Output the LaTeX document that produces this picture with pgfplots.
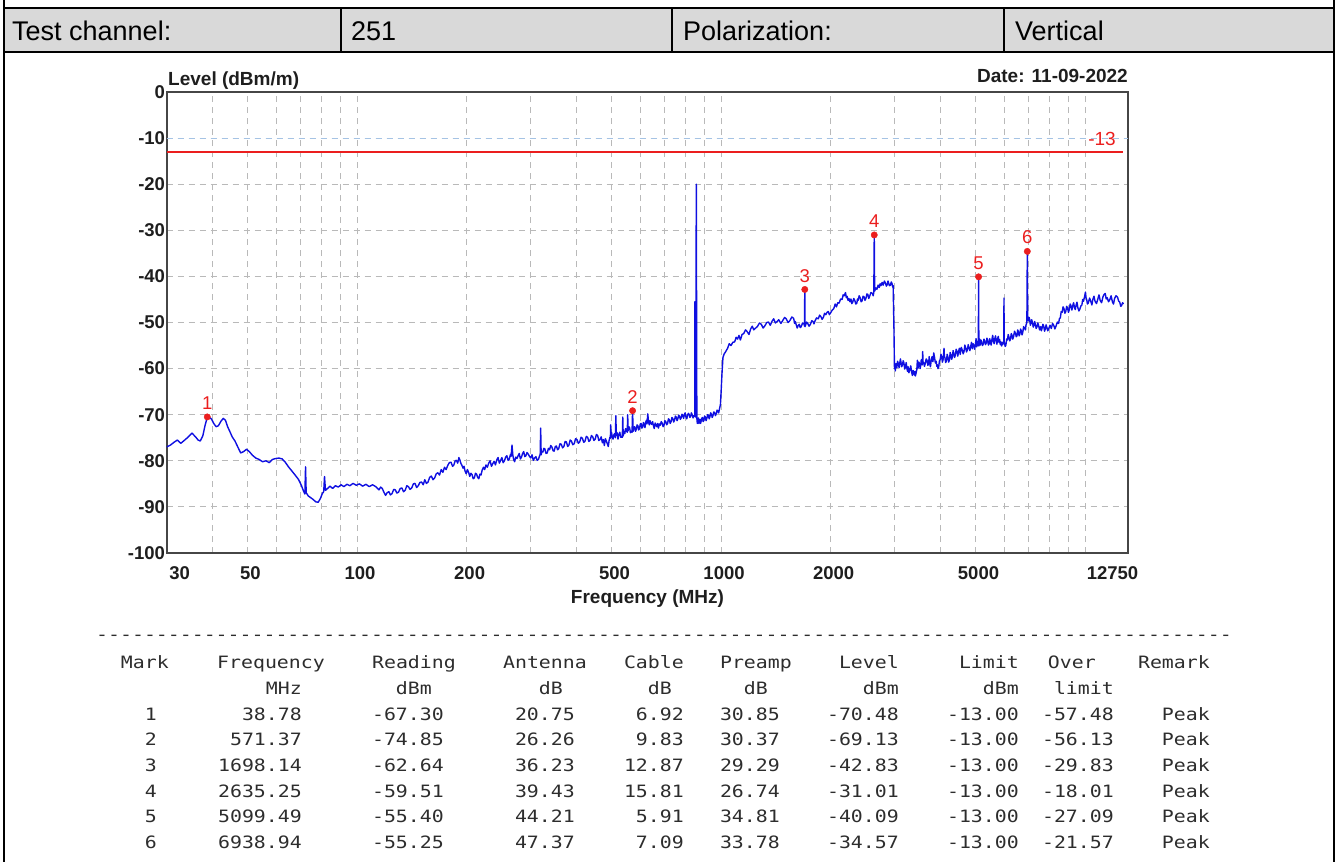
\documentclass[border=0pt]{standalone}
\usepackage{fontspec}
\setmainfont{Liberation Sans}
\newfontfamily\monofont{DejaVu Sans Mono}
\usepackage{graphicx}
\usepackage{pgfplots}
\usepackage{pgfplotstable}
\pgfplotsset{compat=1.18}
\definecolor{hdrgrey}{RGB}{217,217,217}
\definecolor{axisgrey}{RGB}{70,70,70}
\definecolor{gridgrey}{RGB}{185,185,185}
\definecolor{gridblue}{RGB}{165,195,228}
\definecolor{tracecol}{RGB}{15,15,225}
\definecolor{limred}{RGB}{235,30,30}
\definecolor{tabtext}{RGB}{45,45,45}
\definecolor{lblcol}{RGB}{30,30,30}
\newcommand\hdr{\fontsize{27}{30}\selectfont}
\newcommand\chartlbl{\bfseries\fontsize{19}{21}\selectfont}
\newcommand\ticklbl{\bfseries\fontsize{18.5}{20}\selectfont}
\newcommand\mk[1]{\scalebox{1.168}[1]{\monofont\fontsize{17}{19}\selectfont #1}}

\pgfplotstableread{
f L
30 -77.0
30.7 -76.6
31.4 -76.0
32.1 -75.5
32.8 -76.2
33.5 -75.6
34.3 -74.9
35.2 -74.0
36.0 -74.8
36.6 -75.5
37.1 -75.7
37.7 -74.6
38.2 -72.5
38.78 -70.48
39.3 -70.6
39.8 -70.9
40.4 -71.9
41.0 -72.6
41.6 -72.4
42.3 -71.4
42.9 -70.8
43.5 -71.2
44.1 -72.6
44.7 -73.6
45.4 -74.8
46.2 -75.7
47.1 -77.1
47.9 -78.3
48.8 -78.0
49.7 -77.5
50.6 -78.0
51.6 -78.8
52.7 -79.4
53.8 -79.7
55.0 -80.2
56.2 -80.0
57.4 -80.4
58.6 -79.7
59.8 -79.5
61.0 -79.4
62.3 -79.6
63.5 -80.3
64.8 -81.3
66.2 -82.2
67.6 -83.1
69.0 -84.0
70.3 -85.3
71.3 -86.6
71.9 -87.2
72.2 -81.3
72.5 -86.9
73.4 -87.6
74.6 -88.0
75.8 -88.4
77.0 -88.9
78.2 -89.0
79.3 -88.2
80.4 -87.0
81.0 -86.7
81.4 -83.4
81.9 -86.4
83.0 -86.0
84.3 -85.5
85.7 -86.0
87.2 -85.4
88.8 -85.7
90.4 -85.2
92.0 -85.6
93.8 -85.1
95.6 -85.4
97.5 -84.9
99.5 -85.3
101.5 -85.0
103.6 -85.5
105.8 -85.1
108.0 -85.6
110.3 -85.2
112.6 -85.6
114.9 -86.3
116.1 -85.7
117.3 -86.0
118.5 -86.8
119.8 -87.5
121.0 -86.9
122.3 -86.7
123.5 -87.4
124.8 -87.1
126.1 -86.2
127.4 -86.3
128.7 -87.0
130.0 -86.8
131.4 -86.0
132.8 -85.9
134.2 -86.7
135.6 -86.4
137.0 -85.4
138.4 -85.6
139.8 -86.2
141.3 -85.9
142.8 -85.0
144.3 -84.9
145.8 -85.8
147.3 -85.4
148.8 -84.7
150.4 -84.6
152.0 -85.2
153.5 -84.1
155.1 -84.9
156.7 -84.6
158.3 -83.6
160.0 -83.3
161.7 -84.1
163.4 -83.7
165.1 -82.8
166.8 -82.6
168.5 -83.1
170.3 -81.9
172.1 -82.5
173.9 -81.4
175.7 -81.9
177.5 -81.0
179.3 -80.4
181.2 -80.3
183.0 -81.2
184.5 -80.9
186.0 -80.0
187.5 -79.9
189.0 -80.5
190.5 -79.3
191.8 -79.9
193.0 -80.6
194.2 -81.0
195.5 -81.6
196.8 -81.2
198.0 -82.2
199.5 -82.8
201.0 -81.9
202.5 -82.5
204.0 -83.4
205.5 -82.7
207.0 -83.0
208.5 -83.9
210.0 -83.7
211.5 -82.7
213.0 -82.9
214.5 -83.6
216.0 -83.9
217.5 -82.9
219.0 -83.1
220.7 -82.0
222.5 -81.4
224.2 -81.9
226.0 -80.9
228.0 -81.4
230.0 -80.5
232.0 -80.0
234.0 -81.2
236.0 -80.6
238.0 -80.1
240.0 -80.9
242.0 -79.8
244.0 -79.3
246.0 -80.5
248.0 -79.9
250.0 -79.3
252.0 -80.4
254.0 -80.0
256.0 -79.2
258.0 -78.9
260.0 -79.9
262.0 -79.6
264.0 -78.6
265.0 -79.0
266.5 -76.6
268.0 -78.9
269.5 -79.8
271.0 -80.2
273.0 -79.2
275.0 -79.5
277.0 -78.9
279.0 -78.4
281.0 -79.6
283.0 -79.2
285.0 -78.4
287.0 -78.0
289.0 -79.1
291.0 -78.9
293.0 -78.2
295.0 -78.5
297.5 -79.0
300.0 -79.4
302.5 -78.7
305.0 -79.9
307.5 -79.4
310.0 -79.1
312.5 -79.9
315.0 -79.7
317.0 -79.0
318.5 -78.6
319.5 -72.9
320.5 -78.7
322.0 -78.0
324.0 -78.1
326.0 -77.3
328.0 -77.4
330.5 -78.4
333.0 -78.3
335.5 -77.3
338.0 -77.6
340.5 -76.7
343.0 -77.0
345.5 -77.8
348.0 -77.9
350.5 -76.9
353.0 -76.8
355.5 -77.6
358.0 -77.4
361.0 -76.3
364.0 -76.4
367.0 -77.2
370.0 -76.9
373.0 -75.8
376.0 -75.9
379.0 -76.9
382.0 -76.6
385.0 -75.5
388.0 -75.7
391.5 -76.5
395.0 -76.3
398.5 -75.2
402.0 -75.4
405.5 -76.2
409.0 -75.9
412.5 -74.9
416.0 -75.1
419.5 -76.0
423.0 -75.7
426.5 -74.7
430.0 -74.9
433.5 -75.8
437.0 -75.5
440.5 -74.5
444.0 -74.8
447.5 -75.6
451.0 -75.3
454.5 -74.3
458.0 -74.5
461.5 -75.6
465.0 -75.4
468.5 -74.8
472.0 -76.1
475.0 -75.4
478.0 -76.7
481.0 -75.2
484.0 -75.7
487.0 -76.3
490.0 -76.9
492.5 -75.6
495.0 -74.9
496.5 -75.1
497.5 -72.2
498.5 -74.9
500.0 -73.8
502.5 -74.8
505.0 -75.3
507.5 -74.4
510.0 -74.1
512.5 -75.0
514.0 -70.2
515.5 -74.5
518.0 -73.9
521.0 -75.3
524.0 -74.2
527.0 -73.8
530.0 -74.9
533.0 -74.8
535.5 -74.9
537.0 -70.5
538.5 -74.6
541.0 -73.6
544.0 -74.1
546.5 -73.0
549.0 -73.4
552.5 -73.8
554.0 -70.0
555.5 -73.5
558.0 -72.6
561.0 -72.9
563.5 -73.9
566.0 -73.6
569.5 -73.8
571.37 -69.13
573.5 -73.6
576 -72.8
579.0 -72.6
582 -73.6
585.0 -73.2
588 -72.2
591.0 -72.4
594 -73.3
597.0 -73.0
600 -72.0
603.0 -71.9
606 -72.9
609.0 -72.7
612 -71.7
615.0 -72.1
618 -72.8
621.0 -71.6
624 -71.2
626.0 -72.0
629.0 -69.8
632.0 -71.5
635 -72.2
638.0 -71.3
641.5 -71.9
645.0 -72.1
648.5 -71.5
652.0 -72.4
655.5 -73.0
659.0 -71.8
662.5 -72.2
666.0 -72.6
669.5 -71.9
673.0 -72.9
677 -72.0
681.0 -72.3
685 -71.5
689.0 -71.8
693 -72.6
697.0 -72.3
701 -71.3
705.0 -71.5
709 -72.2
713.0 -71.9
717 -70.9
721.0 -71.1
725 -71.9
729.0 -71.5
733 -70.6
737.0 -70.8
741 -71.6
745.0 -71.2
749 -70.3
753.0 -70.5
757 -71.3
761.0 -70.9
765 -70.1
769.0 -70.3
773 -71.0
777.0 -70.7
781 -69.9
785.0 -70.1
789 -70.8
793.0 -70.0
797 -69.6
801.0 -70.5
805 -70.9
809.0 -70.1
813 -69.7
817.0 -69.9
821 -70.6
825.0 -70.3
829 -69.6
833.0 -70.0
837.5 -70.7
842.0 -70.2
846.5 -70.3
847.5 -45.5
848.5 -70.4
852.0 -70.5
855.0 -20.0
858.0 -70.8
860.5 -71.9
863.0 -71.4
866 -70.7
869.0 -71.9
872 -71.2
875.0 -71.0
878 -71.9
881.0 -71.5
885 -70.8
889.0 -70.6
893 -71.5
897.0 -71.2
901 -70.3
905.0 -70.5
909.5 -71.3
914.0 -70.8
918.5 -70.0
923.0 -70.1
927.5 -70.9
932.0 -70.4
936.5 -69.6
941.0 -69.9
945.5 -70.6
950.0 -70.2
955 -69.4
960.0 -69.6
965 -70.2
970.0 -69.8
975 -69.0
980.0 -69.2
985 -69.6
989.0 -68.9
996.0 -67.8
1001.0 -64.5
1006.0 -61.0
1012.0 -57.6
1020.0 -56.8
1030.0 -56.3
1042 -55.6
1053 -54.6
1065 -55.0
1077 -54.3
1090 -54.2
1100 -53.2
1110 -53.6
1120 -52.8
1130 -53.8
1142 -52.6
1154 -52.4
1167 -51.6
1180 -52.0
1193 -52.6
1206 -51.4
1218 -50.8
1230 -51.6
1245 -51.2
1260 -50.8
1275 -50.1
1290 -50.4
1305 -51.2
1320 -50.7
1335 -50.0
1350 -49.9
1365 -50.6
1381 -49.7
1395 -49.2
1410 -50.1
1425 -49.8
1440 -49.4
1460 -50.2
1479 -49.5
1495 -48.9
1510 -49.2
1528 -50.0
1545 -49.6
1565 -48.8
1583 -49.1
1592 -50.2
1600 -49.8
1610 -50.6
1619 -51.2
1630 -50.6
1640 -50.4
1650 -51.1
1660 -50.9
1675 -50.1
1690 -50.3
1695 -50.8
1698.14 -42.83
1701 -50.9
1706 -50.6
1718 -49.9
1730 -50.2
1745 -50.8
1760 -50.4
1775 -49.6
1790 -49.8
1800 -50.3
1811 -49.7
1830 -49.0
1850 -49.2
1865 -48.4
1880 -48.7
1895 -49.3
1910 -48.9
1925 -48.0
1940 -48.3
1955 -47.8
1970 -47.6
1985 -48.3
2000 -47.9
2020 -47.3
2040 -47.0
2058 -46.0
2075 -46.6
2092 -45.7
2110 -45.8
2130 -44.9
2150 -45.0
2165 -44.0
2180 -44.2
2197 -43.5
2208 -44.6
2220 -44.3
2232 -45.2
2245 -44.8
2260 -45.5
2274 -44.9
2287 -45.9
2300 -45.6
2315 -44.8
2330 -45.2
2345 -46.0
2360 -45.8
2370 -44.9
2379 -45.2
2395 -44.2
2410 -44.6
2425 -45.5
2440 -45.3
2455 -44.3
2470 -44.4
2485 -45.2
2500 -44.8
2515 -43.8
2530 -43.9
2545 -44.8
2560 -44.3
2580 -43.5
2605 -43.7
2618 -44.2
2628 -43.4
2635.25 -31.01
2642 -43.2
2660 -42.5
2680 -42.8
2700 -41.9
2720 -42.4
2735 -41.6
2750 -42.0
2770 -41.3
2787 -41.9
2810 -41.0
2830 -41.5
2845 -42.1
2860 -41.8
2875 -41.0
2886 -41.4
2900 -42.0
2920 -41.9
2935 -41.2
2950 -41.6
2962 -42.3
2970 -42.0
2985 -51.3
2995 -60.0
3003 -59.2
3010 -60.5
3025 -58.9
3040 -59.8
3055 -58.4
3070 -59.0
3085 -59.8
3100 -58.6
3110 -57.9
3119 -58.5
3135 -59.6
3150 -59.2
3165 -58.3
3180 -58.8
3195 -60.1
3210 -59.6
3225 -58.7
3240 -59.9
3252 -60.6
3265 -59.6
3282 -60.9
3300 -60.2
3320 -59.4
3340 -60.9
3355 -61.5
3370 -60.4
3385 -61.0
3400 -61.4
3410 -60.6
3419 -61.6
3435 -60.9
3450 -60.2
3462 -58.2
3470 -59.9
3480 -59.8
3495 -58.6
3510 -58.9
3523 -60.0
3537 -59.2
3548 -58.1
3560 -58.4
3570 -59.2
3580 -56.3
3590 -58.9
3600 -58.6
3620 -59.5
3640 -58.9
3660 -57.9
3680 -58.2
3700 -59.3
3720 -58.7
3730 -57.4
3741 -58.8
3760 -59.6
3780 -58.1
3800 -57.4
3820 -58.5
3840 -56.6
3860 -57.6
3880 -58.8
3900 -58.4
3915 -59.5
3930 -59.2
3945 -60.0
3963 -59.6
3980 -58.4
4000 -58.0
4020 -56.9
4040 -57.4
4055 -58.6
4070 -58.2
4085 -57.1
4097 -55.6
4108 -57.4
4120 -57.6
4140 -58.7
4160 -58.3
4180 -56.9
4200 -57.5
4220 -58.6
4241 -58.1
4260 -56.5
4280 -57.0
4300 -58.0
4320 -57.4
4340 -56.1
4360 -56.8
4380 -57.6
4400 -57.1
4425 -55.8
4450 -56.4
4470 -57.3
4490 -56.3
4515 -55.6
4540 -56.9
4570 -55.4
4600 -56.0
4625 -56.8
4650 -56.3
4675 -54.9
4700 -55.5
4725 -56.4
4750 -55.9
4775 -54.8
4801 -55.6
4825 -56.1
4850 -55.2
4875 -54.3
4900 -55.7
4925 -54.6
4950 -55.0
4975 -55.8
5000 -54.6
5020 -53.5
5040 -55.3
5060 -54.2
5080 -54.0
5090 -55.0
5099.49 -40.09
5107 -55.1
5115 -54.4
5132 -53.6
5150 -54.9
5175 -53.8
5200 -54.3
5225 -55.0
5250 -54.7
5275 -53.6
5300 -54.0
5325 -54.8
5350 -54.5
5375 -53.4
5400 -53.9
5425 -54.9
5450 -54.6
5470 -53.5
5495 -54.2
5520 -54.9
5550 -53.6
5575 -52.8
5600 -54.1
5625 -54.6
5650 -53.5
5675 -52.9
5700 -54.0
5725 -54.7
5751 -53.5
5775 -53.0
5800 -54.3
5825 -53.7
5850 -54.8
5875 -54.2
5900 -55.1
5930 -54.5
5960 -54.2
5980 -54.6
5987 -44.7
5995 -54.8
6010 -54.4
6035 -55.2
6060 -54.9
6090 -53.6
6120 -53.8
6150 -52.6
6180 -53.2
6210 -54.0
6240 -53.6
6270 -52.4
6300 -52.8
6330 -53.6
6360 -53.1
6400 -51.9
6442 -52.4
6470 -53.1
6500 -52.9
6530 -51.6
6560 -52.0
6590 -52.9
6620 -52.5
6650 -51.4
6680 -51.8
6710 -52.7
6740 -52.2
6780 -50.9
6823 -51.3
6860 -51.6
6880 -50.6
6920 -50.0
6938.94 -34.57
6955 -48.8
6990 -49.6
7020 -48.9
7047 -49.5
7075 -50.6
7100 -50.2
7135 -49.4
7170 -50.0
7205 -51.0
7240 -50.6
7270 -49.8
7300 -50.3
7340 -51.3
7380 -50.9
7415 -50.1
7450 -50.6
7500 -51.6
7551 -50.9
7585 -51.8
7620 -51.2
7660 -50.4
7700 -50.8
7740 -51.9
7780 -51.4
7815 -50.5
7850 -51.0
7900 -51.8
7950 -51.3
8010 -50.6
8078 -51.3
8140 -50.2
8200 -50.6
8260 -51.4
8320 -50.8
8390 -49.9
8459 -50.2
8500 -49.2
8550 -49.0
8600 -47.6
8650 -47.8
8700 -46.6
8750 -47.0
8800 -48.0
8850 -47.6
8900 -46.5
8950 -46.8
9000 -47.8
9050 -47.2
9100 -46.0
9150 -46.4
9200 -47.3
9251 -46.3
9300 -45.7
9350 -46.8
9400 -47.2
9450 -46.2
9500 -45.6
9560 -46.9
9620 -47.5
9683 -47.0
9740 -46.4
9800 -46.2
9850 -45.0
9900 -45.4
9960 -44.5
10023 -43.4
10060 -44.6
10100 -45.0
10150 -46.0
10200 -45.8
10290 -44.7
10377 -45.5
10440 -46.2
10500 -45.0
10580 -44.3
10650 -45.4
10750 -45.9
10850 -44.8
10920 -44.0
11000 -45.2
11100 -45.7
11200 -44.4
11280 -43.9
11359 -43.7
11430 -44.9
11500 -44.6
11600 -45.5
11700 -45.0
11790 -44.2
11885 -45.5
11970 -46.0
12050 -44.8
12160 -44.2
12280 -44.5
12360 -45.3
12450 -45.6
12530 -46.5
12600 -46.3
12680 -45.7
12750 -46.0
}\trace

\pgfplotstableread{
f L lbl
38.78 -70.48 1
571.37 -69.13 2
1698.14 -42.83 3
2635.25 -31.01 4
5099.49 -40.09 5
6938.94 -34.57 6
}\markers

\begin{document}
\begin{tikzpicture}
\path[use as bounding box] (0pt,0pt) rectangle (1338pt,-862pt);
\begin{scope}[x=1pt,y=-1pt]
% header row
\fill[hdrgrey] (4,8) rectangle (1334,52);
\draw[line width=2.5pt] (3,8) -- (1334,8);
\draw[line width=2.5pt] (3,52) -- (1334,52);
\draw[line width=1.5pt] (341,8) -- (341,52);
\draw[line width=1.5pt] (672,8) -- (672,52);
\draw[line width=1.5pt] (1004,8) -- (1004,52);
\draw[line width=2pt] (3.5,0) -- (3.5,862);
\draw[line width=2pt] (1333.5,0) -- (1333.5,862);
\node[anchor=base west, inner sep=0pt] at (12,40) {\hdr Test channel:};
\node[anchor=base west, inner sep=0pt] at (351,40) {\hdr 251};
\node[anchor=base west, inner sep=0pt] at (683,40) {\hdr Polarization:};
\node[anchor=base west, inner sep=0pt] at (1015,40) {\hdr Vertical};
% chart texts
\node[anchor=base west, inner sep=0pt, text=lblcol] at (168,85) {\chartlbl Level (dBm/m)};
\node[anchor=base east, inner sep=0pt, text=lblcol] at (1128,82) {\chartlbl Date: 11-09-2022};
\node[anchor=base, inner sep=0pt, text=lblcol] at (647.5,603) {\chartlbl Frequency (MHz)};
\node[anchor=base east, inner sep=0pt, text=limred] at (1116,145) {\fontsize{19}{21}\selectfont -13};
% table
\begin{scope}[every node/.style={inner sep=0pt, text=tabtext}]
\node[anchor=base west] at (96,640) {\mk{\foreach \i in {1,...,95}{-\kern0pt}}};
\node[anchor=base east] at (169,668.6) {\mk{Mark}};
\node[anchor=base east] at (325,668.6) {\mk{Frequency}};
\node[anchor=base east] at (456,668.6) {\mk{Reading}};
\node[anchor=base east] at (587,668.6) {\mk{Antenna}};
\node[anchor=base east] at (684,668.6) {\mk{Cable}};
\node[anchor=base east] at (792,668.6) {\mk{Preamp}};
\node[anchor=base east] at (899,668.6) {\mk{Level}};
\node[anchor=base east] at (1019,668.6) {\mk{Limit}};
\node[anchor=base east] at (1096,668.6) {\mk{Over}};
\node[anchor=base east] at (1210,668.6) {\mk{Remark}};
\node[anchor=base east] at (302,694.3) {\mk{MHz}};
\node[anchor=base east] at (432,694.3) {\mk{dBm}};
\node[anchor=base east] at (563,694.3) {\mk{dB}};
\node[anchor=base east] at (672,694.3) {\mk{dB}};
\node[anchor=base east] at (768,694.3) {\mk{dB}};
\node[anchor=base east] at (899,694.3) {\mk{dBm}};
\node[anchor=base east] at (1019,694.3) {\mk{dBm}};
\node[anchor=base east] at (1114,694.3) {\mk{limit}};
\foreach \ry/\ra/\rb/\rc/\rd/\re/\rf/\rg/\rh/\ri in {
 720/1/38.78/-67.30/20.75/6.92/30.85/-70.48/-13.00/-57.48,
 745.7/2/571.37/-74.85/26.26/9.83/30.37/-69.13/-13.00/-56.13,
 771.4/3/1698.14/-62.64/36.23/12.87/29.29/-42.83/-13.00/-29.83,
 797.1/4/2635.25/-59.51/39.43/15.81/26.74/-31.01/-13.00/-18.01,
 822.8/5/5099.49/-55.40/44.21/5.91/34.81/-40.09/-13.00/-27.09,
 848.5/6/6938.94/-55.25/47.37/7.09/33.78/-34.57/-13.00/-21.57}{
  \node[anchor=base east] at (157,\ry) {\mk{\ra}};
  \node[anchor=base east] at (302,\ry) {\mk{\rb}};
  \node[anchor=base east] at (444,\ry) {\mk{\rc}};
  \node[anchor=base east] at (575,\ry) {\mk{\rd}};
  \node[anchor=base east] at (684,\ry) {\mk{\re}};
  \node[anchor=base east] at (780,\ry) {\mk{\rf}};
  \node[anchor=base east] at (899,\ry) {\mk{\rg}};
  \node[anchor=base east] at (1019,\ry) {\mk{\rh}};
  \node[anchor=base east] at (1114,\ry) {\mk{\ri}};
  \node[anchor=base east] at (1210,\ry) {\mk{Peak}};
}
\end{scope}
\end{scope}

\begin{axis}[
  at={(166.7pt,-553pt)}, anchor=south west,
  scale only axis, width=961.3pt, height=461pt,
  xmode=log, xmin=30, xmax=13120, ymin=-100, ymax=0,
  xtick={30,50,100,200,500,1000,2000,5000,12750},
  xticklabels={\hspace*{20pt}30,50,100,200,500,1000,2000,5000,12750\hspace*{28pt}},
  minor xtick={40,50,60,70,80,90,100,200,300,400,500,600,700,800,900,1000,2000,3000,4000,5000,6000,7000,8000,9000,10000},
  ytick={-100,-90,-80,-70,-60,-50,-40,-30,-20,-10,0},
  yticklabels={-100,-90,-80,-70,-60,-50,-40,-30,-20,-10,0},
  xmajorgrids=false, xminorgrids=true, ymajorgrids=true,
  major tick length=0pt, minor tick length=0pt,
  grid style={draw=gridgrey, line width=1pt, dash pattern=on 6pt off 5pt},
  minor grid style={draw=gridgrey, line width=1pt, dash pattern=on 6pt off 5pt},
  axis line style={draw=axisgrey, line width=2.2pt},
  tick label style={font=\ticklbl, text=lblcol},
  xticklabel style={anchor=north, inner sep=0pt, yshift=-13.5pt, xshift=3pt},
  yticklabel style={anchor=east, inner sep=0pt, xshift=-1.5pt},
]
\addplot[gridblue, line width=1pt, dash pattern=on 6pt off 5pt] coordinates {(30,-10) (13120,-10)};
\addplot[limred, line width=1.8pt] coordinates {(30,-13) (12750,-13)};
\addplot[tracecol, line width=1.4pt, line join=round] table[x=f, y=L] {\trace};
\addplot[only marks, mark=*, mark size=3.2pt, limred,
  nodes near coords, point meta=explicit symbolic,
  nodes near coords style={font=\fontsize{18.5}{20}\selectfont, text=limred, anchor=south, inner sep=0pt, yshift=7pt}]
  table[x=f, y=L, meta=lbl] {\markers};
\end{axis}
\end{tikzpicture}
\end{document}
